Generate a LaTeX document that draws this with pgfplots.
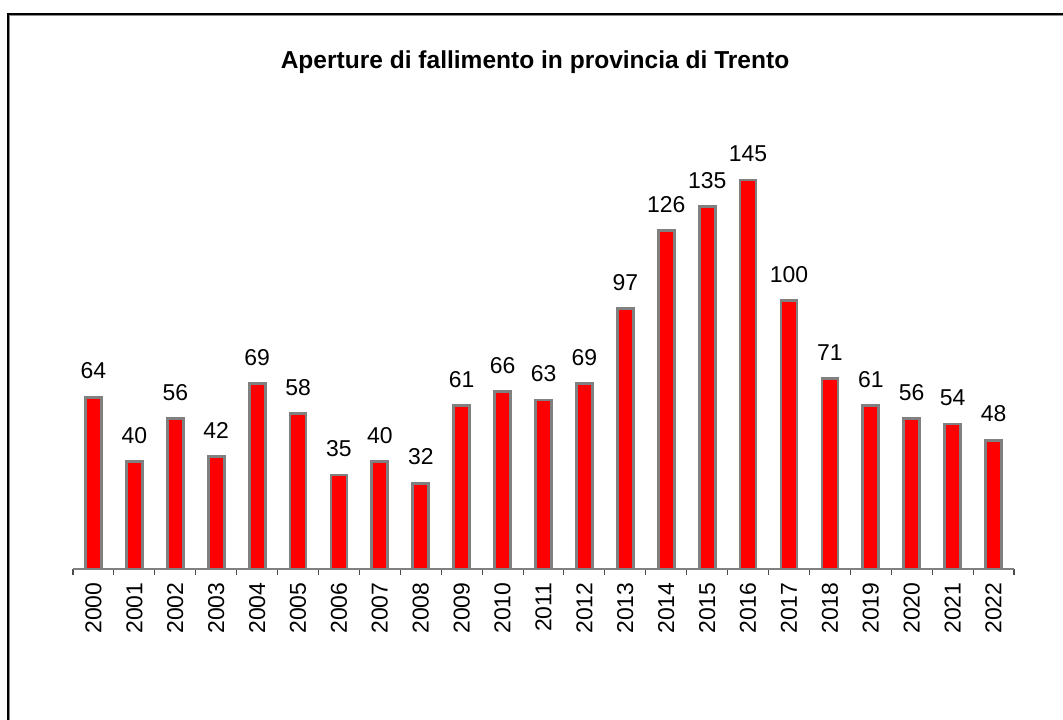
\documentclass[border=0pt]{standalone}
\usepackage{pgfplots}
\pgfplotsset{compat=1.18}
\usepackage{fontspec}
\setmainfont{Liberation Sans}
\definecolor{axgray}{RGB}{128,128,128}
\begin{document}
\begin{tikzpicture}
\useasboundingbox (0pt,0pt) rectangle (797.25pt,540pt);
\draw[black!45,line width=0.8pt] (7.4pt,-2pt) -- (7.4pt,528.1pt) -- (800pt,528.1pt);
\draw[black,line width=1.6pt] (6pt,-2pt) -- (6pt,529.5pt) -- (800pt,529.5pt);
\node[font=\fontsize{18.4}{22}\selectfont\bfseries] at (401.25pt,493.5pt) {Aperture di fallimento in provincia di Trento};
\begin{axis}[
  at={(54.75pt,113.25pt)}, anchor=south west,
  scale only axis, width=705.75pt, height=322pt,
  xmin=1999.5, xmax=2022.5, ymin=0, ymax=160,
  axis x line=bottom, axis y line=none,
  axis line style={axgray,line width=1.2pt,-},
  xtick={2000,2001,...,2022},
  major tick length=0pt,
  minor xtick={1999.5,2000.5,...,2022.5},
  minor tick length=4.5pt,
  tick align=outside,
  minor tick style={black!70,line width=0.8pt},
  /pgf/number format/1000 sep={},
  /pgf/number format/assume math mode=true,
  xticklabel style={rotate=90,anchor=east,inner sep=0pt,xshift=-10pt,font=\fontsize{17.2}{20}\selectfont},
  ybar, bar width=12pt, bar shift=0pt,
  nodes near coords,
  nodes near coords style={font=\fontsize{17.2}{20}\selectfont,anchor=south,inner sep=0pt,yshift=12.5pt,black},
  clip=false,
]
\addplot[fill=red,draw=axgray,line width=2.1pt] coordinates {
(2000,64) (2001,40) (2002,56) (2003,42) (2004,69) (2005,58) (2006,35) (2007,40)
(2008,32) (2009,61) (2010,66) (2011,63) (2012,69) (2013,97) (2014,126) (2015,135)
(2016,145) (2017,100) (2018,71) (2019,61) (2020,56) (2021,54) (2022,48)};
\end{axis}
\end{tikzpicture}
\end{document}
